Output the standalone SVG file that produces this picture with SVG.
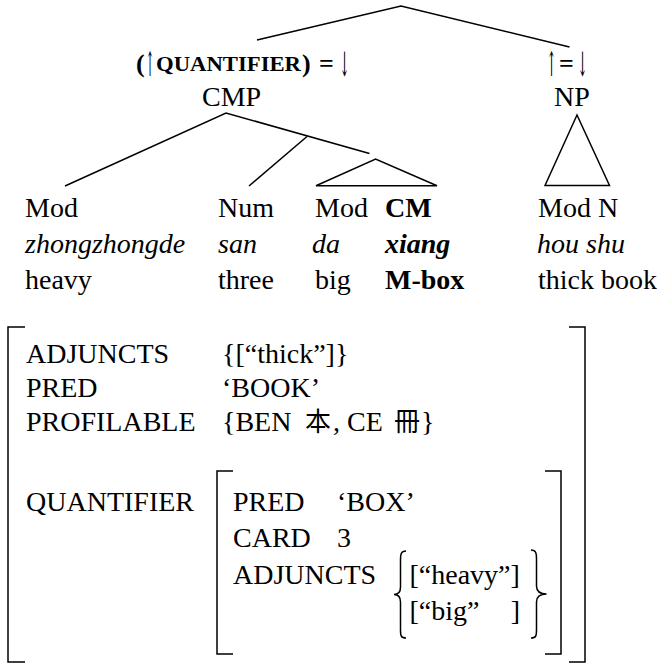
<svg xmlns="http://www.w3.org/2000/svg" width="657" height="666" viewBox="0 0 657 666">
<style>
text{font-family:"Liberation Serif","Noto Sans CJK TC",serif;font-size:28px;fill:#000}
.b{font-weight:bold}
.i{font-style:italic}
.ln{fill:none;stroke:#000;stroke-width:1.5}
.hd{font-size:26px;font-weight:bold}
.ar{font-family:"DejaVu Serif",serif;font-size:34px;font-weight:normal;fill-opacity:0.99}
</style>
<rect width="657" height="666" fill="#fff"/>
<g id="connectors" class="ln">
<path d="M257,40 L401,6 L569.5,47"/>
<path d="M65,186 L226,113 L369.5,153.5"/>
<path d="M307,136.5 L249,186"/>
<path d="M316,185.7 L375.6,159 L437,185.7 Z"/>
<path d="M545,185.5 L577,115 L609.5,185.5 Z"/>
</g>
<g id="node-cmp-annot">
<text class="hd" y="72"><tspan x="136">(</tspan><tspan class="ar" x="145" y="76" textLength="10" lengthAdjust="spacingAndGlyphs">↑</tspan><tspan x="156" y="71" font-size="22" textLength="145" lengthAdjust="spacingAndGlyphs">QUANTIFIER</tspan><tspan x="302" y="72">)</tspan><tspan x="319">=</tspan><tspan class="ar" x="339" y="76" textLength="11" lengthAdjust="spacingAndGlyphs">↓</tspan></text>
</g>
<g id="node-np-annot">
<text class="hd" y="72"><tspan class="ar" x="546" y="76" textLength="11" lengthAdjust="spacingAndGlyphs">↑</tspan><tspan x="559" y="72">=</tspan><tspan class="ar" x="577" y="76" textLength="11" lengthAdjust="spacingAndGlyphs">↓</tspan></text>
</g>
<g id="node-cmp"><text x="202" y="106">CMP</text></g>
<g id="node-np"><text x="554" y="106">NP</text></g>
<g id="node-mod1">
<text x="25" y="217">Mod</text>
<text class="i" x="25" y="253">zhongzhongde</text>
<text x="25" y="289">heavy</text>
</g>
<g id="node-num">
<text x="218" y="217">Num</text>
<text class="i" x="218" y="253">san</text>
<text x="218" y="289">three</text>
</g>
<g id="node-mod2">
<text x="315" y="217">Mod</text>
<text class="i" x="312" y="253">da</text>
<text x="315" y="289">big</text>
</g>
<g id="node-cm">
<text class="b" x="385" y="217">CM</text>
<text class="b i" x="385" y="253">xiang</text>
<text class="b" x="385" y="289">M-box</text>
</g>
<g id="node-modn">
<text x="538" y="217">Mod N</text>
<text class="i" x="537" y="253">hou shu</text>
<text x="538" y="289">thick book</text>
</g>
<g id="avm">
<path class="ln" d="M25,327 H8 V662 H25"/>
<path class="ln" d="M569,327 H585 V662 H569"/>
<text x="26" y="363">ADJUNCTS</text>
<text x="222" y="363">{[“thick”]}</text>
<text x="26" y="397">PRED</text>
<text x="222" y="397">‘BOOK’</text>
<text x="26" y="431">PROFILABLE</text>
<text x="222" y="431">{BEN <tspan x="305" font-size="26">本</tspan><tspan x="333">, CE </tspan><tspan x="394" font-size="26">冊</tspan><tspan x="421">}</tspan></text>
<text x="26" y="511">QUANTIFIER</text>
<g id="avm-quantifier">
<path class="ln" d="M233,471 H217 V654 H233"/>
<path class="ln" d="M545,471 H561 V654 H545"/>
<text x="233" y="511">PRED</text>
<text x="337" y="511">‘BOX’</text>
<text x="233" y="547">CARD</text>
<text x="337" y="547">3</text>
<text x="233" y="584">ADJUNCTS</text>
<path class="ln" d="M406,551 C401,551 400.5,554 400.5,560 L400.5,587 C400.5,592 398,594.5 394,594.5 C398,594.5 400.5,597 400.5,602 L400.5,630 C400.5,636 401,638 406,638"/>
<path class="ln" d="M531,550 C536,550 536.5,553 536.5,559 L536.5,586 C536.5,591 539,594 546.5,594 C539,594 536.5,597 536.5,602 L536.5,630 C536.5,636 536,638 531,638"/>
<text x="409.5" y="584">[“heavy”]</text>
<text x="409.5" y="620">[“big”</text>
<text x="520" y="620" text-anchor="end">]</text>
</g>
</g>
</svg>
